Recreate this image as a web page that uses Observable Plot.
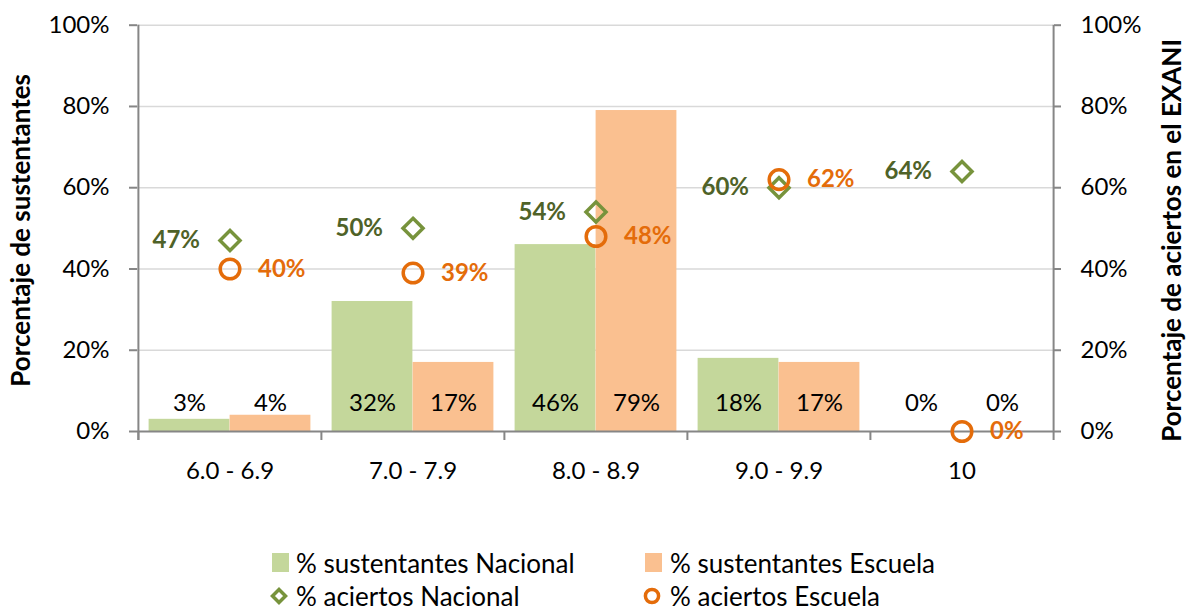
<!DOCTYPE html>
<html>
<head>
<meta charset="utf-8">
<script src="https://cdn.jsdelivr.net/npm/d3@7"></script>
<script src="https://cdn.jsdelivr.net/npm/@observablehq/plot@0.6"></script>
<style>
  body { margin: 0; background: #fff; font-family: Lato, "Open Sans", sans-serif; }
  #wrap { position: relative; width: 1194px; height: 611px; overflow: hidden; background: #fff; }
  #chart { position: absolute; left: 0; top: 0; }
  .lg { position: absolute; font-size: 26px; line-height: 24px; height: 24px; color: #000; white-space: nowrap; }
  .sw { position: absolute; }
</style>
</head>
<body>
<div id="wrap">
  <div id="chart"></div>
  <div id="legend"></div>
</div>
<script>
// ---- data ----
const categories = ["6.0 - 6.9", "7.0 - 7.9", "8.0 - 8.9", "9.0 - 9.9", "10"];
const sustNacional = [3, 32, 46, 18, 0];
const sustEscuela = [4, 17, 79, 17, 0];
const aciertosNacional = [47, 50, 54, 60, 64];
const aciertosEscuela = [40, 39, 48, 62, 0];
const yTicks = [0, 20, 40, 60, 80, 100];
const seriesNames = ["% sustentantes Nacional", "% sustentantes Escuela", "% aciertos Nacional", "% aciertos Escuela"];
const leftTitle = "Porcentaje de sustentantes";
const rightTitle = "Porcentaje de aciertos en el EXANI";

// ---- styles ----
const C = {
  barNac: "#C4D79B", barEsc: "#FAC090",
  dotNac: "#77933C", dotEsc: "#E46C0A",
  lblNac: "#4F6228", lblEsc: "#E46C0A",
  axis: "#868686", grid: "#D9D9D9"
};
const FONT = "Lato, 'Open Sans', sans-serif";
const W = 1194, H = 500, mL = 137, mR = 141, mT = 24.7, mB = 69;
const band = (W - mL - mR) / categories.length;
const half = band / 2;
const pad = 10.6;
const barCenter = (half - pad) / 2;

const data = categories.map((c, i) => ({
  cat: c, sn: sustNacional[i], se: sustEscuela[i], an: aciertosNacional[i], ae: aciertosEscuela[i]
}));
const pct = d => d + "%";

const diamond = {
  draw(ctx, size) {
    const r = Math.sqrt(size / Math.PI);
    ctx.moveTo(0, -r); ctx.lineTo(r, 0); ctx.lineTo(0, r); ctx.lineTo(-r, 0); ctx.closePath();
  }
};

const chart = Plot.plot({
  width: W, height: H,
  marginLeft: mL, marginRight: mR, marginTop: mT, marginBottom: mB,
  style: { fontFamily: FONT, fontSize: "24px", background: "transparent", color: "#000" },
  x: { domain: categories, padding: 0 },
  y: { domain: [0, 100] },
  marks: [
    Plot.gridY(yTicks.filter(t => t > 0), { stroke: C.grid, strokeOpacity: 1, strokeWidth: 1.5 }),
    Plot.barY(data, { x: "cat", y: "sn", fill: C.barNac, insetLeft: pad, insetRight: half }),
    Plot.barY(data, { x: "cat", y: "se", fill: C.barEsc, insetLeft: half, insetRight: pad }),
    Plot.ruleY([0], { stroke: C.axis, strokeWidth: 2 }),
    // category boundary ticks
    Plot.ruleX(categories, { x: d => d, y1: 0, y2: 0, insetBottom: -9, dx: -half, stroke: C.axis, strokeWidth: 2 }),
    // vertical axis lines
    Plot.ruleX(categories.slice(0, 1), { x: d => d, y1: 100, y2: 0, insetBottom: -9, dx: -half, stroke: C.axis, strokeWidth: 2 }),
    Plot.ruleX(categories.slice(-1), { x: d => d, y1: 100, y2: 0, insetBottom: -9, dx: half, stroke: C.axis, strokeWidth: 2 }),
    Plot.axisY({ anchor: "left", ticks: yTicks, tickFormat: pct, tickSize: 8, tickPadding: 20,
      stroke: C.axis, strokeWidth: 2, fill: "#000", fontSize: 24, label: null }),
    Plot.axisY({ anchor: "right", ticks: yTicks, tickFormat: pct, tickSize: 7, tickPadding: 20,
      stroke: C.axis, strokeWidth: 2, fill: "#000", fontSize: 24, label: null }),
    Plot.axisX({ tickSize: 0, tickPadding: 30, fill: "#000", fontSize: 24, label: null }),
    // bar value labels
    Plot.text(data, { x: "cat", y: 0, text: d => pct(d.sn), dx: -barCenter, dy: -28, fontSize: 24, fill: "#000" }),
    Plot.text(data, { x: "cat", y: 0, text: d => pct(d.se), dx: barCenter, dy: -28, fontSize: 24, fill: "#000" }),
    // markers
    Plot.dot(data, { x: "cat", y: "an", symbol: diamond, r: 10, stroke: C.dotNac, strokeWidth: 3.5, fill: "none" }),
    Plot.dot(data, { x: "cat", y: "ae", r: 9.8, stroke: C.dotEsc, strokeWidth: 3.5, fill: "none" }),
    Plot.text(data, { x: "cat", y: "an", text: d => pct(d.an), dx: -30, textAnchor: "end", fill: C.lblNac, fontWeight: "bold", fontSize: 24 }),
    Plot.text(data, { x: "cat", y: "ae", text: d => pct(d.ae), dx: 28, textAnchor: "start", fill: C.lblEsc, fontWeight: "bold", fontSize: 24 }),
    // axis titles
    Plot.text([leftTitle], { text: d => d, frameAnchor: "left", textAnchor: "middle", dx: -116, dy: 2, rotate: -90, fontWeight: "bold", fontSize: 26, fill: "#000" }),
    Plot.text([rightTitle], { text: d => d, frameAnchor: "right", textAnchor: "middle", dx: 119, dy: 12, rotate: -90, fontWeight: "bold", fontSize: 26, fill: "#000" })
  ]
});
document.getElementById("chart").appendChild(chart);

// ---- legend (HTML below the SVG) ----
const legend = document.getElementById("legend");
const items = [
  { name: seriesNames[0], kind: "square", color: C.barNac, sx: 272, tx: 296, cy: 563 },
  { name: seriesNames[1], kind: "square", color: C.barEsc, sx: 645, tx: 670, cy: 563 },
  { name: seriesNames[2], kind: "diamond", color: C.dotNac, sx: 270, tx: 296, cy: 596 },
  { name: seriesNames[3], kind: "circle", color: C.dotEsc, sx: 643, tx: 670, cy: 596 }
];
items.forEach(it => {
  let sw;
  if (it.kind === "square") {
    sw = document.createElement("div");
    sw.className = "sw";
    sw.style.cssText = `left:${it.sx}px;top:${it.cy - 10}px;width:17px;height:19px;background:${it.color};`;
  } else {
    sw = document.createElementNS("http://www.w3.org/2000/svg", "svg");
    sw.setAttribute("class", "sw");
    sw.setAttribute("width", 18); sw.setAttribute("height", 18);
    sw.style.cssText = `position:absolute;left:${it.sx}px;top:${it.cy - 9}px;`;
    const s = d3.select(sw);
    if (it.kind === "diamond") {
      s.append("path").attr("d", "M9,2.5L15.5,9L9,15.5L2.5,9Z").attr("fill", "none").attr("stroke", it.color).attr("stroke-width", 3.5);
    } else {
      s.append("circle").attr("cx", 9).attr("cy", 9).attr("r", 6.6).attr("fill", "none").attr("stroke", it.color).attr("stroke-width", 3.5);
    }
  }
  legend.appendChild(sw);
  const t = document.createElement("div");
  t.className = "lg";
  t.style.left = it.tx + "px";
  t.style.top = (it.cy - 12) + "px";
  t.textContent = it.name;
  legend.appendChild(t);
});
</script>
</body>
</html>
